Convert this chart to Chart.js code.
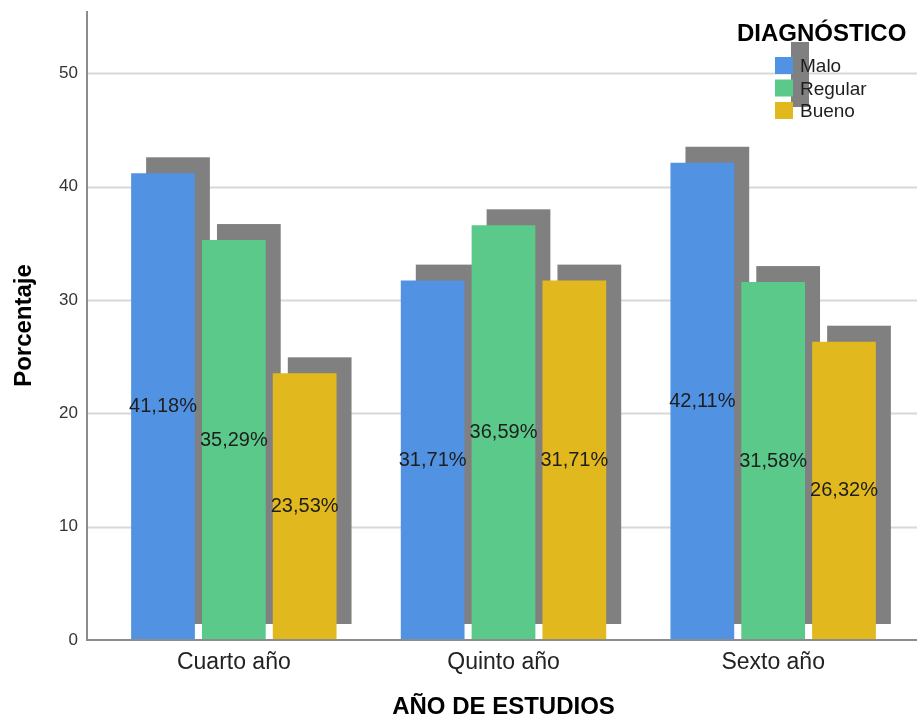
<!DOCTYPE html>
<html lang="es">
<head>
<meta charset="utf-8">
<title>Diagnóstico por año de estudios</title>
<script src="https://cdn.jsdelivr.net/npm/chart.js@4.4.1/dist/chart.umd.min.js"></script>
<style>
  html, body { margin:0; padding:0; background:#fff; }
  #wrap { width:917px; height:722px; position:relative; }
</style>
</head>
<body>
<div id="wrap"><canvas id="chart"></canvas></div>
<script>
/* data */
const years   = ['Cuarto año', 'Quinto año', 'Sexto año'];
const malo    = [41.18, 31.71, 42.11];
const regular = [35.29, 36.59, 31.58];
const bueno   = [23.53, 31.71, 26.32];
const yTicks  = [0, 10, 20, 30, 40, 50];

const FONT = '"Liberation Sans", Arial, sans-serif';
const SHADOW = '#808080';
const DX = 15, DY = 16;   // offset of the grey "3D" block

/* ── frame: axis lines + gridlines running past the category range ── */
const framePlugin = {
    id: 'frame',
    beforeDatasetsDraw(chart) {
        const { ctx, chartArea, scales: { y } } = chart;
        const axisX = chartArea.left - 12;
        ctx.save();
        ctx.lineWidth = 2;
        ctx.strokeStyle = '#d8d8d8';
        y.ticks.forEach(t => {
            if (t.value === 0) return;
            const py = Math.round(y.getPixelForValue(t.value)) + 0.5;
            ctx.beginPath(); ctx.moveTo(axisX, py); ctx.lineTo(chart.width, py); ctx.stroke();
        });
        ctx.strokeStyle = '#8c8c8c';
        ctx.beginPath(); ctx.moveTo(axisX, chartArea.top); ctx.lineTo(axisX, chartArea.bottom + 1); ctx.stroke();
        ctx.restore();

        /* grey shadow blocks behind every bar */
        ctx.save();
        ctx.fillStyle = SHADOW;
        chart.data.datasets.forEach((ds, i) => {
            chart.getDatasetMeta(i).data.forEach(bar => {
                const { x, y: top, base, width } = bar.getProps(['x', 'y', 'base', 'width'], true);
                ctx.fillRect(x - width / 2 + DX, top - DY, width, base - top);
            });
        });
        ctx.restore();
    },
    afterDatasetsDraw(chart) {
        const { ctx, chartArea } = chart;
        const axisX = chartArea.left - 12;
        ctx.save();
        ctx.lineWidth = 2;
        ctx.strokeStyle = '#8c8c8c';
        ctx.beginPath(); ctx.moveTo(axisX, chartArea.bottom); ctx.lineTo(chart.width, chartArea.bottom); ctx.stroke();

        /* value labels at the middle of each bar */
        ctx.font = `20px ${FONT}`;
        ctx.fillStyle = '#1e1e1e';
        ctx.textAlign = 'center';
        ctx.textBaseline = 'middle';
        chart.data.datasets.forEach((ds, i) => {
            chart.getDatasetMeta(i).data.forEach((bar, j) => {
                const { x, y: top, base } = bar.getProps(['x', 'y', 'base'], true);
                const txt = ds.data[j].toFixed(2).replace('.', ',') + '%';
                ctx.fillText(txt, x, (top + base) / 2);
            });
        });
        ctx.restore();
    }
};

/* ── legend in the top-right corner, SPSS style ── */
const legendPlugin = {
    id: 'spssLegend',
    afterDraw(chart) {
        const { ctx } = chart;
        const left = 737, boxX = 775, textX = 800, row0 = 67, rowH = 22.5;
        ctx.save();
        ctx.font = `bold 24px ${FONT}`;
        ctx.fillStyle = '#000';
        ctx.textBaseline = 'middle';
        ctx.fillText('DIAGNÓSTICO', left, 34);

        ctx.fillStyle = SHADOW;
        ctx.fillRect(boxX + DX + 1, row0 - 25, 18, rowH * 2 + 20);

        ctx.font = `19px ${FONT}`;
        chart.data.datasets.forEach((ds, i) => {
            const cy = row0 + i * rowH;
            ctx.fillStyle = ds.backgroundColor;
            ctx.fillRect(boxX, cy - 10, 18, 17);
            ctx.fillStyle = '#1e1e1e';
            ctx.fillText(ds.label, textX, cy);
        });
        ctx.restore();
    }
};

new Chart(document.getElementById('chart').getContext('2d'), {
    type: 'bar',
    data: {
        labels: years,
        datasets: [
            { label: 'Malo',    data: malo,    backgroundColor: '#5292e2' },
            { label: 'Regular', data: regular, backgroundColor: '#5bc98a' },
            { label: 'Bueno',   data: bueno,   backgroundColor: '#e1b81d' }
        ]
    },
    options: {
        responsive: true,
        maintainAspectRatio: false,
        animation: false,
        layout: { padding: { top: 11, right: 9, left: 0, bottom: 0 } },
        datasets: { bar: { barPercentage: 0.9, categoryPercentage: 0.788, borderWidth: 0 } },
        plugins: { legend: { display: false }, tooltip: { enabled: false } },
        scales: {
            x: {
                grid: { display: false, drawTicks: false },
                border: { display: false },
                ticks: { color: '#222', font: { family: FONT, size: 23 }, padding: 9 },
                title: { display: true, text: 'AÑO DE ESTUDIOS', color: '#000',
                         font: { family: FONT, size: 24, weight: 'bold' }, padding: { top: 0, bottom: 0 } },
                afterFit(scale) { scale.height = 82; scale.paddingLeft = 0; scale.paddingRight = 0; }
            },
            y: {
                min: 0, max: 55.5,
                grid: { display: false, drawTicks: false },
                border: { display: false },
                ticks: {
                    stepSize: 10, includeBounds: false, padding: 21,
                    color: '#333', font: { family: FONT, size: 17 }
                },
                afterBuildTicks(scale) { scale.ticks = yTicks.map(v => ({ value: v })); },
                title: { display: true, text: 'Porcentaje', color: '#000',
                         font: { family: FONT, size: 24, weight: 'bold' }, padding: { top: 10, bottom: 0 } },
                afterFit(scale) { scale.width = 99; scale.paddingTop = 0; scale.paddingBottom = 0; }
            }
        }
    },
    plugins: [framePlugin, legendPlugin]
});
</script>
</body>
</html>
